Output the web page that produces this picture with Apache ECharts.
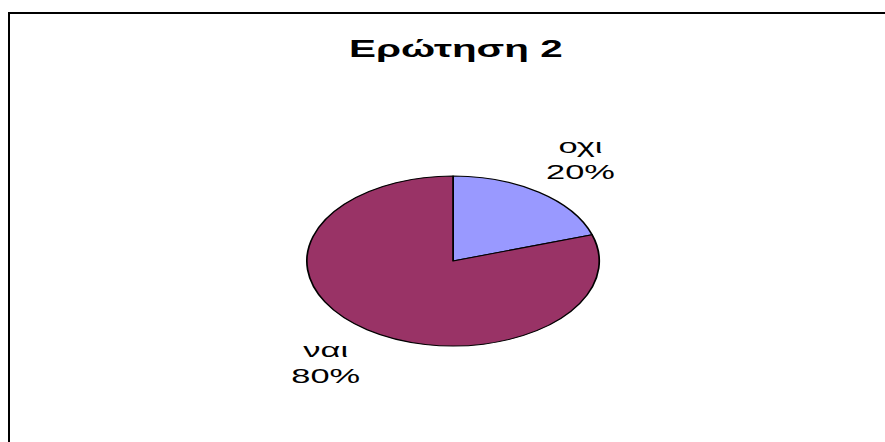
<!DOCTYPE html>
<html>
<head>
    <meta charset="utf-8">
    <title>Ερώτηση 2</title>
    <script src="https://cdn.jsdelivr.net/npm/echarts@6.0.0/dist/echarts.min.js"></script>
    <style>
        html, body { margin: 0; padding: 0; background: #fff; overflow: hidden; }
        /* frame of the original sheet: only top and left edges visible */
        #frame {
            position: absolute; left: 8px; top: 12px;
            width: 900px; height: 450px;
            border-left: 2px solid #000; border-top: 2px solid #000;
        }
        /* the original picture is stretched horizontally, so the chart is drawn narrow and stretched */
        #chart {
            position: absolute; left: 0; top: 0;
            width: 514.5px; height: 442px;
            transform: scaleX(1.72); transform-origin: 0 0;
        }
    </style>
</head>
<body>
    <div id="frame"></div>
    <div id="chart"></div>

    <script>
        // 数据
        const titleText = 'Ερώτηση 2';
        const categories = ['οχι', 'ναι'];
        const values = [20, 80];
        const colors = ['#9999FF', '#993366'];

        const pieData = categories.map((c, i) => ({
            name: c,
            value: values[i],
            itemStyle: { color: colors[i] }
        }));

        const chart = echarts.init(document.getElementById('chart'), null, { renderer: 'svg' });

        const option = {
            backgroundColor: 'transparent',
            animation: false,
            title: {
                text: titleText,
                left: 260,
                textAlign: 'center',
                top: 32,
                textStyle: {
                    fontFamily: 'Liberation Sans, Arial, sans-serif',
                    fontSize: 23.5,
                    fontWeight: 'bold',
                    color: '#000'
                }
            },
            series: [
                {
                    type: 'pie',
                    center: [263.4, 261],
                    radius: [0, 85],
                    startAngle: 90,
                    clockwise: true,
                    silent: true,
                    label: { show: false },
                    labelLine: { show: false },
                    itemStyle: { borderColor: '#000', borderWidth: 1 },
                    data: pieData
                },
                {
                    // invisible ring used only to place the labels
                    type: 'pie',
                    center: [263.4, 261],
                    radius: [112, 134],
                    startAngle: 90,
                    clockwise: true,
                    silent: true,
                    itemStyle: { color: 'rgba(0,0,0,0)', borderWidth: 0 },
                    labelLine: { show: false },
                    label: {
                        show: true,
                        position: 'inside',
                        formatter: '{b}\n{d}%',
                        fontFamily: 'Liberation Sans, Arial, sans-serif',
                        fontSize: 20,
                        lineHeight: 26,
                        color: '#000'
                    },
                    data: categories.map((c, i) => ({ name: c, value: values[i] }))
                }
            ]
        };

        chart.setOption(option);
    </script>
</body>
</html>
